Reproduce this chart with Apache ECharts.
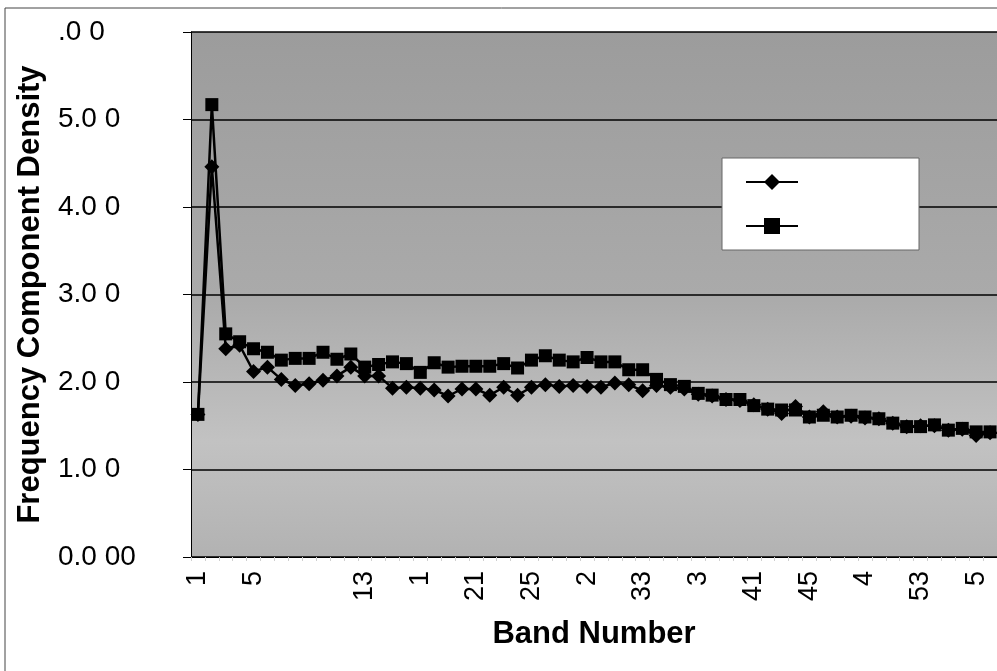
<!DOCTYPE html>
<html>
<head>
<meta charset="utf-8">
<script src="https://cdn.jsdelivr.net/npm/echarts@6/dist/echarts.min.js"></script>
<style>
html,body{margin:0;padding:0;background:#fff;}
#chart{width:997px;height:671px;}
</style>
</head>
<body>
<div id="chart"></div>
<script>
// Band numbers (categories)
var bands = [];
for (var b = 1; b <= 58; b++) bands.push(String(b));

// Series with diamond markers
var diamondValues = [1.63,4.46,2.38,2.42,2.12,2.17,2.03,1.96,1.98,2.02,
  2.07,2.17,2.07,2.07,1.93,1.94,1.93,1.91,1.84,1.92,
  1.92,1.85,1.94,1.85,1.94,1.97,1.95,1.96,1.95,1.94,
  1.99,1.97,1.90,1.96,1.94,1.92,1.86,1.84,1.80,1.79,
  1.74,1.69,1.64,1.72,1.60,1.66,1.60,1.61,1.59,1.58,
  1.53,1.49,1.50,1.50,1.45,1.46,1.39,1.42];

// Series with square markers
var squareValues = [1.63,5.17,2.55,2.46,2.38,2.34,2.25,2.27,2.27,2.34,
  2.26,2.32,2.17,2.20,2.23,2.21,2.11,2.22,2.17,2.18,
  2.18,2.18,2.21,2.16,2.25,2.30,2.25,2.23,2.28,2.23,
  2.23,2.14,2.14,2.03,1.97,1.95,1.87,1.85,1.80,1.80,
  1.73,1.69,1.68,1.68,1.60,1.62,1.60,1.62,1.60,1.58,
  1.53,1.49,1.49,1.51,1.45,1.47,1.43,1.43];

// Tick labels as printed (every 4th band)
var xTickLabels = ['1','5','','13','1','21','25','2','33','3','41','45','4','53','5'];
var yTickLabels = ['0.0 00','1.0 0','2.0 0','3.0 0','4.0 0','5.0 0','.0 0'];

var chart = echarts.init(document.getElementById('chart'), null, {renderer:'canvas'});
var font = 'Liberation Sans, Arial, Helvetica, sans-serif';

chart.setOption({
  backgroundColor: '#ffffff',
  animation: false,
  graphic: [{
    type: 'rect', z: -1,
    shape: {x: 5, y: 8, width: 1200, height: 1000},
    style: {fill: 'none', stroke: '#444', lineWidth: 1}
  }],
  grid: {
    left: 191, top: 32, width: 812, height: 525,
    show: true, borderWidth: 0,
    backgroundColor: new echarts.graphic.LinearGradient(0, 0, 0, 1, [
      {offset: 0, color: '#9c9c9c'},
      {offset: 0.5, color: '#aaaaaa'},
      {offset: 0.78, color: '#c2c2c2'},
      {offset: 1, color: '#b2b2b2'}
    ])
  },
  legend: {
    orient: 'vertical',
    left: 722, top: 158,
    itemWidth: 52, itemHeight: 20, itemGap: 26,
    padding: [14, 120, 16, 23],
    backgroundColor: '#ffffff',
    borderColor: '#666', borderWidth: 1,
    formatter: function () { return ''; },
    data: ['Series 1', 'Series 2']
  },
  xAxis: {
    type: 'category',
    data: bands,
    boundaryGap: true,
    name: 'Band Number',
    nameLocation: 'middle',
    nameGap: 62,
    nameTextStyle: {fontFamily: font, fontWeight: 'bold', fontSize: 31, color: '#000'},
    axisLine: {show: true, lineStyle: {color: '#000', width: 1}},
    axisTick: {show: true, interval: 0, length: 4, lineStyle: {color: '#cfcfcf'}},
    axisLabel: {
      interval: 3, rotate: 90, margin: 14,
      fontFamily: font, fontSize: 27, color: '#000',
      formatter: function (v, i) { return xTickLabels[Math.round(i / 4)] || ''; }
    },
    splitLine: {show: false}
  },
  yAxis: {
    type: 'value', min: 0, max: 6, interval: 1,
    name: 'Frequency Component Density',
    nameLocation: 'middle',
    nameGap: 145,
    nameTextStyle: {fontFamily: font, fontWeight: 'bold', fontSize: 31, color: '#000'},
    axisLine: {show: true, lineStyle: {color: '#000', width: 1}},
    axisTick: {show: true, length: 8, lineStyle: {color: '#000'}},
    axisLabel: {
      align: 'left', margin: 133,
      fontFamily: font, fontSize: 28, color: '#000',
      formatter: function (v) { return yTickLabels[Math.round(v)]; }
    },
    splitLine: {show: true, lineStyle: {color: '#000', width: 1.5}}
  },
  series: [{
    name: 'Series 1', type: 'line', data: diamondValues,
    symbol: 'diamond', symbolSize: 15, showSymbol: true, showAllSymbol: true,
    lineStyle: {color: '#000', width: 2.5},
    itemStyle: {color: '#000'}
  }, {
    name: 'Series 2', type: 'line', data: squareValues,
    symbol: 'rect', symbolSize: 13, showSymbol: true, showAllSymbol: true,
    lineStyle: {color: '#000', width: 2.5},
    itemStyle: {color: '#000'}
  }]
});
</script>
</body>
</html>
